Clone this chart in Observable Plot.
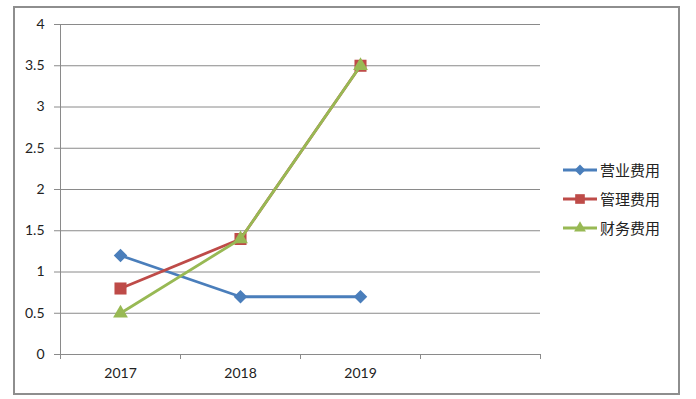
<!DOCTYPE html>
<html>
<head>
<meta charset="utf-8">
<script src="https://cdn.jsdelivr.net/npm/d3@7"></script>
<script src="https://cdn.jsdelivr.net/npm/@observablehq/plot@0.6"></script>
<style>
  html, body { margin: 0; padding: 0; background: #fff; }
  #wrap { position: relative; width: 696px; height: 399px; overflow: hidden; }
  #frame { position: absolute; left: 13px; top: 6px; width: 663px; height: 385px; border: 2px solid #8e8e8e; pointer-events: none; }
  #legend { position: absolute; left: 563px; top: 155px; font-family: "Noto Sans CJK SC", sans-serif; font-size: 15px; color: #222; }
  .row { display: flex; align-items: center; height: 29px; }
  .row svg { margin-right: 3px; }
</style>
</head>
<body>
<div id="wrap">
  <div id="chart"></div>
  <div id="legend"></div>
  <div id="frame"></div>
</div>
<script>
const categories = ["2017", "2018", "2019"];
const seriesNames = ["营业费用", "管理费用", "财务费用"];
const sales = [1.2, 0.7, 0.7];
const admin = [0.8, 1.4, 3.5];
const finance = [0.5, 1.4, 3.5];
const yTicks = [0, 0.5, 1, 1.5, 2, 2.5, 3, 3.5, 4];
const colors = ["#4a7ebb", "#be4b48", "#98b954"];
const symbols = ["diamond2", "square", "triangle"];
const slotCount = 4; // category slots on the axis (last is empty)

const values = [sales, admin, finance];
const data = [];
seriesNames.forEach((s, si) => {
  categories.forEach((c, ci) => {
    data.push({series: s, cat: c, idx: ci + 1, value: values[si][ci]});
  });
});

const boundaries = d3.range(0.5, slotCount + 1, 1);
const labelPos = categories.map((c, i) => i + 1);
const radius = {"diamond2": 6.1, "square": 6.8, "triangle": 5.5};

const marks = [
  Plot.gridY(yTicks, {stroke: "#8a8a8a", strokeOpacity: 1, strokeWidth: 1}),
  Plot.ruleX([0.5], {stroke: "#8a8a8a", strokeWidth: 1}),
  Plot.ruleY([0], {stroke: "#8a8a8a", strokeWidth: 1}),
  Plot.axisY(yTicks, {label: null, tickSize: 6, tickPadding: 10, stroke: "#8a8a8a", fontSize: 14, fill: "#222", tickFormat: d => String(d)}),
  Plot.axisX(boundaries, {label: null, tickSize: 5, tickFormat: () => "", stroke: "#8a8a8a"}),
  Plot.axisX(labelPos, {label: null, tickSize: 0, tickPadding: 14, fontSize: 14, fill: "#222", tickFormat: d => categories[d - 1]})
];
seriesNames.forEach((s, si) => {
  const rows = data.filter(d => d.series === s);
  marks.push(Plot.line(rows, {x: "idx", y: "value", stroke: colors[si], strokeWidth: 2.8}));
  marks.push(Plot.dot(rows, {x: "idx", y: "value", symbol: () => symbols[si], r: radius[symbols[si]], fill: colors[si], stroke: "none"}));
});

const chart = Plot.plot({
  width: 696,
  height: 399,
  marginLeft: 60,
  marginRight: 156,
  marginTop: 24,
  marginBottom: 45,
  style: {fontFamily: "Lato, sans-serif", fontSize: "14px", background: "white"},
  x: {type: "linear", domain: [0.5, slotCount + 0.5], axis: null, label: null},
  y: {domain: [0, 4], axis: null, label: null},
  symbol: {type: "identity"},
  marks
});
document.getElementById("chart").appendChild(chart);

// legend
const legend = document.getElementById("legend");
seriesNames.forEach((s, si) => {
  const row = document.createElement("div");
  row.className = "row";
  const sym = d3.symbol(
    {"diamond2": d3.symbolDiamond2, "square": d3.symbolSquare, "triangle": d3.symbolTriangle}[symbols[si]],
    Math.PI * Math.pow(radius[symbols[si]] * 0.8, 2)
  )();
  row.innerHTML = `<svg width="34" height="14"><line x1="0" x2="34" y1="7" y2="7" stroke="${colors[si]}" stroke-width="2.8"/><path d="${sym}" transform="translate(17,7)" fill="${colors[si]}"/></svg><span>${s}</span>`;
  legend.appendChild(row);
});
</script>
</body>
</html>
